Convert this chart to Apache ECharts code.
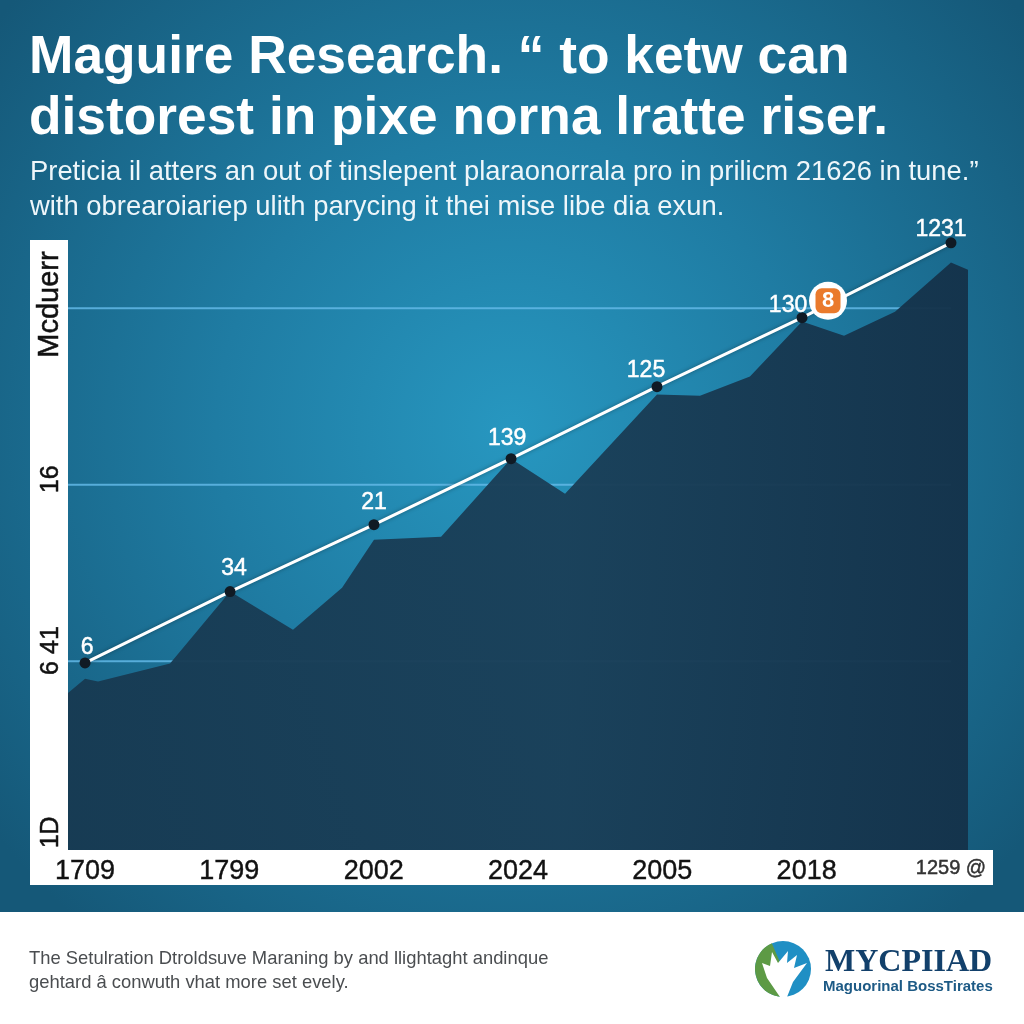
<!DOCTYPE html>
<html>
<head>
<meta charset="utf-8">
<style>
  html, body { margin: 0; padding: 0; background: #fff; }
  #chart { width: 1024px; height: 1024px; }
</style>
<script src="https://cdn.jsdelivr.net/npm/echarts@6/dist/echarts.min.js"></script>
</head>
<body>
<div id="chart"></div>
<script>
const titleLines = 'Maguire Research. “ to ketw can\ndistorest in pixe norna lratte riser.';
const subtitleLines = 'Preticia il atters an out of tinslepent plaraonorrala pro in prilicm 21626 in tune.”\nwith obrearoiariep ulith parycing it thei mise libe dia exun.';
const footerLines = 'The Setulration Dtroldsuve Maraning by and llightaght andinque\ngehtard â conwuth vhat more set evely.';
const logoName = 'MYCPIIAD';
const logoTagline = 'Maguorinal BossTirates';

const xLabels = ['1709', '1799', '2002', '2024', '2005', '2018', '1259 @'];
const xTicks = [0, 1, 2, 3, 4, 5, 6];
const yLabels = ['1D', '6 41', '16', 'Mcduerr'];
const yLabelAt = [3, 106, 203, 302];
const gridLevels = [100, 200, 300];

const lineX = [0, 1.005, 2.002, 2.952, 3.963, 4.968, 6];
const lineY = [99, 139.4, 177.3, 214.7, 255.5, 294.6, 337];
const pointLabels = ['6', '34', '21', '139', '125', '130', '1231'];

const areaX = [-0.118, 0, 0.09, 0.589, 1.005, 1.441, 1.781, 2.002, 2.467, 2.952, 3.326, 3.963, 4.261, 4.607, 4.968, 5.259, 5.612, 6, 6.118];
const areaY = [82, 90, 88.4, 98.6, 139.4, 117.8, 141.6, 168.8, 170.5, 214.7, 194.9, 251, 250.4, 261.2, 292.4, 284.4, 298, 325.8, 321.8];

const badgePoint = [5.148, 304.2];

const FONT = '"Liberation Sans", Arial, sans-serif';
const labelShift = [[2, 13], [4, 5], [0, 6], [-4, 8], [-11, 12], [-14, 16], [-10, 15]];

const chart = echarts.init(document.getElementById('chart'));

const gridSeries = gridLevels.map(function (v) {
  return {
    type: 'line',
    z: 1,
    silent: true,
    showSymbol: false,
    lineStyle: { color: '#62b8e6', width: 2, opacity: 0.85 },
    data: [[-0.118, v], [6, v]]
  };
});

chart.setOption({
  animation: false,
  title: [
    {
      text: titleLines, left: 24, top: 23,
      textStyle: { color: '#fff', fontFamily: FONT, fontSize: 53.3, fontWeight: 'bold', lineHeight: 61 }
    },
    {
      text: subtitleLines, left: 25, top: 150,
      textStyle: { color: '#eef6fa', fontFamily: FONT, fontSize: 27.4, fontWeight: 'normal', lineHeight: 35 }
    },
    {
      text: footerLines, left: 24, top: 942,
      textStyle: { color: '#4a4d50', fontFamily: FONT, fontSize: 18.4, fontWeight: 'normal', lineHeight: 24 }
    },
    {
      text: logoName, left: 820, top: 942,
      textStyle: { color: '#12406b', fontFamily: '"Liberation Serif", serif', fontSize: 32, fontWeight: 'bold' }
    },
    {
      text: logoTagline, left: 818, top: 974,
      textStyle: { color: '#1d5a85', fontFamily: FONT, fontSize: 15, fontWeight: 'bold' }
    }
  ],
  graphic: [
    {
      type: 'rect', z: -10, silent: true,
      shape: { x: 0, y: 0, width: 1024, height: 912 },
      style: {
        fill: new echarts.graphic.RadialGradient(0.5, 0.47, 0.72, [
          { offset: 0, color: '#2797c0' },
          { offset: 0.45, color: '#1f7ca3' },
          { offset: 1, color: '#155878' }
        ])
      }
    },
    { type: 'rect', z: -9, silent: true, shape: { x: 30, y: 240, width: 38, height: 645 }, style: { fill: '#fff' } },
    { type: 'rect', z: -9, silent: true, shape: { x: 30, y: 850, width: 963, height: 35 }, style: { fill: '#fff' } },
    // logo
    { type: 'circle', silent: true, shape: { cx: 783, cy: 969, r: 28 }, style: { fill: '#1f8fc4' } },
    { type: 'sector', silent: true, shape: { cx: 783, cy: 969, r: 28, r0: 0, startAngle: 1.5, endAngle: 4.3 }, style: { fill: '#5d9a45' } },
    {
      type: 'polygon', silent: true,
      shape: { points: [[780, 997], [767, 978], [762, 963], [770, 966], [772, 952], [778, 963], [788, 951], [787, 963], [797, 955], [794, 968], [807, 963], [793, 982], [787, 997]] },
      style: { fill: '#fff' }
    }
  ],
  grid: { left: 68, right: 56, top: 240, bottom: 174 },
  xAxis: {
    type: 'value',
    min: -0.118,
    max: 6.118,
    axisLine: { show: false },
    axisTick: { show: false },
    splitLine: { show: false },
    axisLabel: {
      customValues: xTicks,
      margin: 8,
      color: '#111',
      fontFamily: FONT,
      fontSize: 27,
      textBorderColor: '#111',
      textBorderWidth: 0.4,
      formatter: function (v) {
        const s = xLabels[xTicks.indexOf(v)];
        return v === 6 ? '{small|' + s + '}' : s;
      },
      rich: { small: { fontSize: 20, color: '#333', fontFamily: FONT } }
    }
  },
  yAxis: {
    type: 'value',
    min: -7,
    max: 338.6,
    axisLine: { show: false },
    axisTick: { show: false },
    splitLine: { show: false },
    axisLabel: {
      customValues: yLabelAt,
      rotate: 90,
      margin: 4,
      color: '#111',
      fontFamily: FONT,
      fontSize: 25,
      textBorderColor: '#111',
      textBorderWidth: 0.5,
      formatter: function (v) {
        const s = yLabels[yLabelAt.indexOf(v)];
        return v === 302 ? '{big|' + s + '}' : s;
      },
      rich: { big: { fontSize: 29, color: '#111', fontFamily: FONT, textBorderColor: '#111', textBorderWidth: 0.5 } }
    }
  },
  series: gridSeries.concat([
    {
      type: 'line',
      z: 2,
      silent: true,
      showSymbol: false,
      lineStyle: { width: 0 },
      areaStyle: {
        origin: 'start',
        opacity: 0.96,
        color: new echarts.graphic.LinearGradient(0, 0, 1, 0, [
          { offset: 0, color: '#173a52' },
          { offset: 0.55, color: '#1a3f58' },
          { offset: 1, color: '#14324a' }
        ])
      },
      data: areaX.map(function (x, i) { return [x, areaY[i]]; })
    },
    {
      type: 'line',
      z: 3,
      symbol: 'circle',
      symbolSize: 11,
      itemStyle: { color: '#101a24' },
      lineStyle: { color: '#fff', width: 3, shadowColor: 'rgba(0,0,0,0.35)', shadowBlur: 4 },
      label: {
        show: true,
        position: 'top',
        distance: 11,
        color: '#fff',
        fontFamily: FONT,
        fontSize: 23,
        textBorderColor: '#fff',
        textBorderWidth: 0.5,
        formatter: function (p) { return pointLabels[p.dataIndex]; }
      },
      data: lineX.map(function (x, i) {
        return { value: [x, lineY[i]], label: { offset: labelShift[i] } };
      })
    },
    {
      type: 'scatter',
      z: 4,
      silent: true,
      symbol: 'circle',
      symbolSize: 38,
      itemStyle: { color: '#fff', opacity: 1 },
      data: [badgePoint]
    },
    {
      type: 'scatter',
      z: 5,
      silent: true,
      symbol: 'roundRect',
      symbolSize: 25,
      itemStyle: { color: '#ea7a2c', opacity: 1 },
      label: {
        show: true,
        position: 'inside',
        color: '#fff',
        fontFamily: FONT,
        fontWeight: 'bold',
        fontSize: 22,
        formatter: '8'
      },
      data: [badgePoint]
    }
  ])
});
</script>
</body>
</html>
